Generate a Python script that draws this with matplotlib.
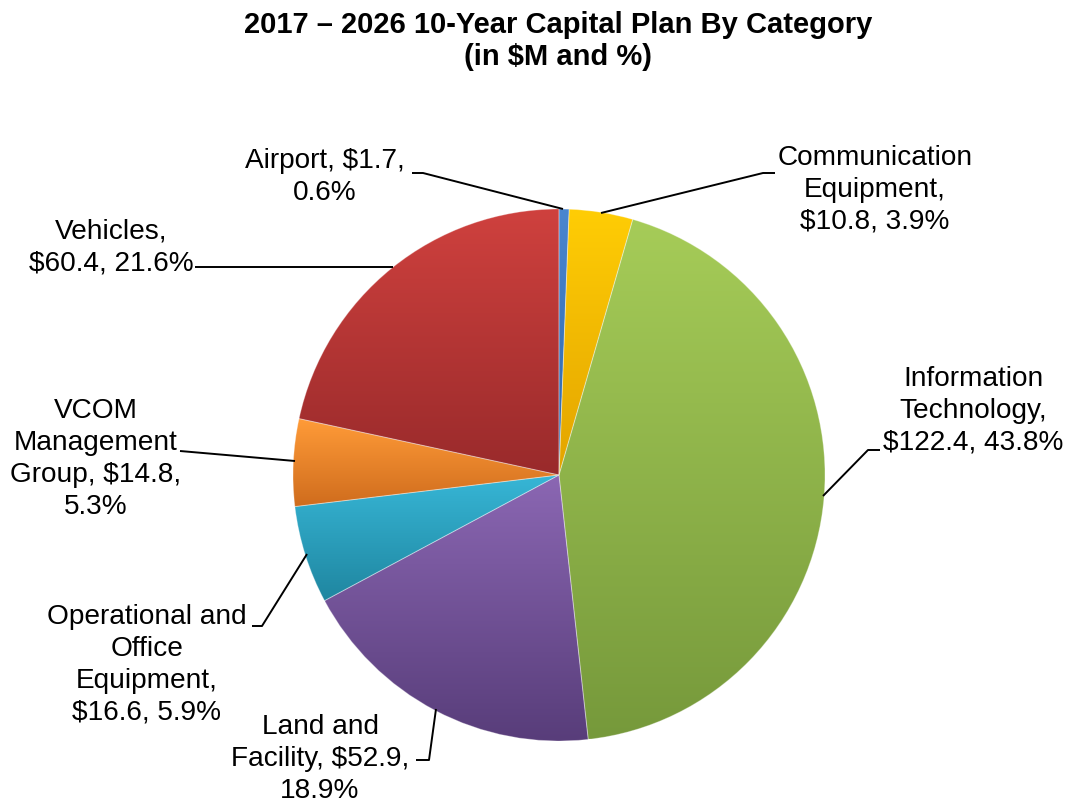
import numpy as np
import matplotlib
matplotlib.use("Agg")
import matplotlib.pyplot as plt
from matplotlib.colors import LinearSegmentedColormap

plt.rcParams['font.family'] = ['Liberation Sans', 'DejaVu Sans']

# Capital plan by category ($M), clockwise from 12 o'clock
categories = ["Airport", "Communication\nEquipment", "Information\nTechnology",
              "Land and\nFacility", "Operational and\nOffice\nEquipment",
              "VCOM\nManagement\nGroup", "Vehicles"]
values = [1.7, 10.8, 122.4, 52.9, 16.6, 14.8, 60.4]
percents = [0.6, 3.9, 43.8, 18.9, 5.9, 5.3, 21.6]
label_texts = [
    "Airport, $1.7,\n0.6%",
    "Communication\nEquipment,\n$10.8, 3.9%",
    "Information\nTechnology,\n$122.4, 43.8%",
    "Land and\nFacility, $52.9,\n18.9%",
    "Operational and\nOffice\nEquipment,\n$16.6, 5.9%",
    "VCOM\nManagement\nGroup, $14.8,\n5.3%",
    "Vehicles,\n$60.4, 21.6%",
]
# light (top) / dark (bottom) shade per slice
shades = [("#4a86d0", "#2f66a8"), ("#ffcd05", "#e3a400"), ("#a6cc58", "#76993b"),
          ("#8b67b3", "#583d7a"), ("#37b6d6", "#1f86a0"), ("#ff9b38", "#cf6c1d"),
          ("#cf413e", "#992a2b")]

W, H = 1067, 804
fig = plt.figure(figsize=(W / 100, H / 100), dpi=100)
ax = fig.add_axes([0, 0, 1, 1])

cx, cy, R = 559, 476, 266

# Pie drawn in a y-down frame: counterclock=True visually runs clockwise here
wedges, _ = ax.pie(values, center=(cx, cy), radius=R, startangle=-90,
                   counterclock=True, frame=True,
                   wedgeprops=dict(linewidth=0))
ax.set_xlim(0, W)
ax.set_ylim(H, 0)
ax.set_aspect('equal')
ax.axis('off')

grad = np.linspace(0, 1, 256).reshape(-1, 1)
for w, (c1, c2) in zip(wedges, shades):
    w.set_facecolor('none')
    ext = w.get_path().get_extents()
    cmap = LinearSegmentedColormap.from_list("g", [c1, c2])
    im = ax.imshow(grad, cmap=cmap, aspect='auto', interpolation='bilinear',
                   extent=(ext.x0, ext.x1, ext.y1, ext.y0), zorder=1)
    im.set_clip_path(w)
    w.set_zorder(2)
    w.set_edgecolor((1, 1, 1, 0.3))
    w.set_linewidth(0.7)

ax.set_xlim(0, W)
ax.set_ylim(H, 0)

# label positions (block centres) and leader polylines
label_pos = [(325, 177), (875, 190), (973, 411), (320, 759), (147, 665),
             (96, 459), (111, 247)]
leaders = [
    [(412, 174), (423, 174), (563, 210)],
    [(775, 174), (763, 174), (601, 214)],
    [(880, 451), (868, 451), (823, 497)],
    [(416, 761), (429, 761), (436, 710)],
    [(252, 627), (262, 627), (307, 555)],
    [(180, 452), (295, 462)],
    [(195, 268), (393, 268)],
]
for txt, (x, y) in zip(label_texts, label_pos):
    ax.text(x, y, txt, ha='center', va='center', fontsize=20.2,
            color='black', linespacing=1.3, zorder=5)
for pts in leaders:
    xs, ys = zip(*pts)
    ax.plot(xs, ys, color='black', lw=1.4, zorder=4, solid_capstyle='butt')

ax.text(558, 41, "2017 \u2013 2026 10-Year Capital Plan By Category\n(in $M and %)",
        ha='center', va='center', fontsize=21, fontweight='bold',
        linespacing=1.15, zorder=5)

fig.savefig("out.png", dpi=100)
